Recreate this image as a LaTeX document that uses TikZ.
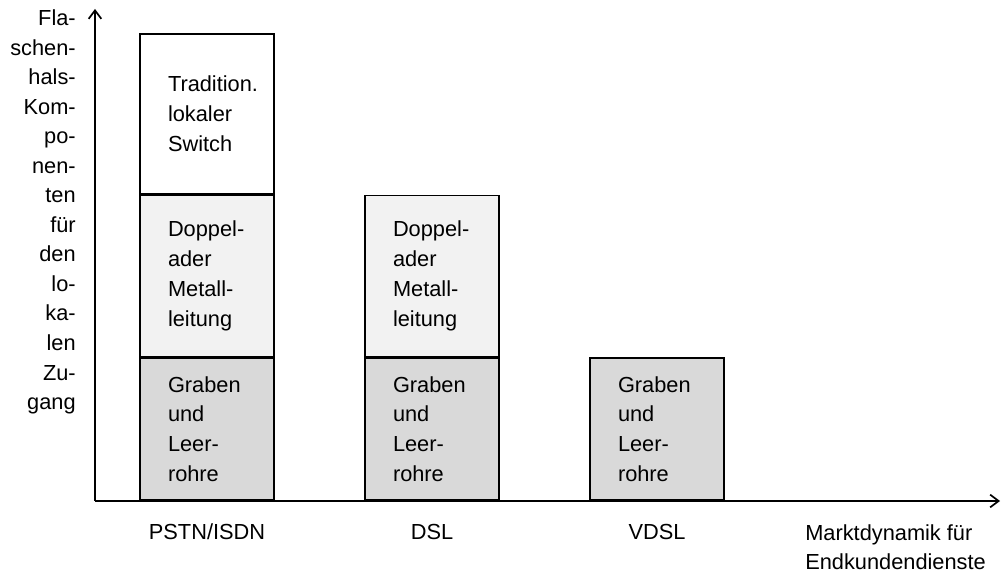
\documentclass[tikz,border=0pt]{standalone}
\usepackage{fontspec}
\setmainfont{Liberation Sans}
\usepackage{xcolor}
\usetikzlibrary{arrows.meta}
\usetikzlibrary{positioning}

\definecolor{leitung}{HTML}{F2F2F2}
\definecolor{graben}{HTML}{D9D9D9}

\begin{document}
\begin{tikzpicture}[
  every node/.style={inner sep=0pt, font=\fontsize{15.5}{21.3}\selectfont},
  seg/.style={rectangle, draw, line width=1.2pt, minimum width=3.35cm,
              text width=1.95cm, align=left},
  axis/.style={->, line width=1.2pt},
]
\tikzset{>={Straight Barb[length=6pt, width=9pt]}}

\useasboundingbox (-2.375,-1.8) rectangle (22.675,12.525);

% Axes
\coordinate (O) at (0,0);
\coordinate (ytip) at (0,12.3);
\coordinate (xtip) at (22.625,0);
\draw[axis] (O) -- (ytip);
\draw[axis] (O) -- (xtip);

% Bar 1 - PSTN/ISDN
\node[seg, fill=graben, minimum height=3.55cm, anchor=south] (pstnGraben) at (2.8,0) {Graben\\und\\Leer-\\rohre};
\node[seg, fill=leitung, minimum height=4.025cm, above=0pt of pstnGraben] (pstnDoppel) {Doppel-\\ader\\Metall-\\leitung};
\node[seg, fill=white, minimum height=4cm, above=0pt of pstnDoppel] (pstnSwitch) {Tradition.\\lokaler\\Switch};

% Bar 2 - DSL
\node[seg, fill=graben, minimum height=3.55cm, anchor=south] (dslGraben) at (8.425,0) {Graben\\und\\Leer-\\rohre};
\node[seg, fill=leitung, minimum height=4.025cm, above=0pt of dslGraben] (dslDoppel) {Doppel-\\ader\\Metall-\\leitung};

% Bar 3 - VDSL
\node[seg, fill=graben, minimum height=3.55cm, anchor=south] (vdslGraben) at (14.05,0) {Graben\\und\\Leer-\\rohre};

% Labels below the bars
\node (pstn) at (2.8,-0.775) {PSTN/ISDN};
\node (dsl)  at (8.425,-0.775) {DSL};
\node (vdsl) at (14.05,-0.775) {VDSL};
\node[anchor=west, align=left, font=\fontsize{15.5}{20.6}\selectfont] (xlabel) at (17.75,-1.16) {Marktdynamik für\\Endkundendienste};

% Vertical axis label
\node[anchor=east, align=right, font=\fontsize{15.5}{21}\selectfont] (ylabel) at (-0.475,7.225)
  {Fla-\\schen-\\hals-\\Kom-\\po-\\nen-\\ten\\für\\den\\lo-\\ka-\\len\\Zu-\\gang};

\end{tikzpicture}
\end{document}
